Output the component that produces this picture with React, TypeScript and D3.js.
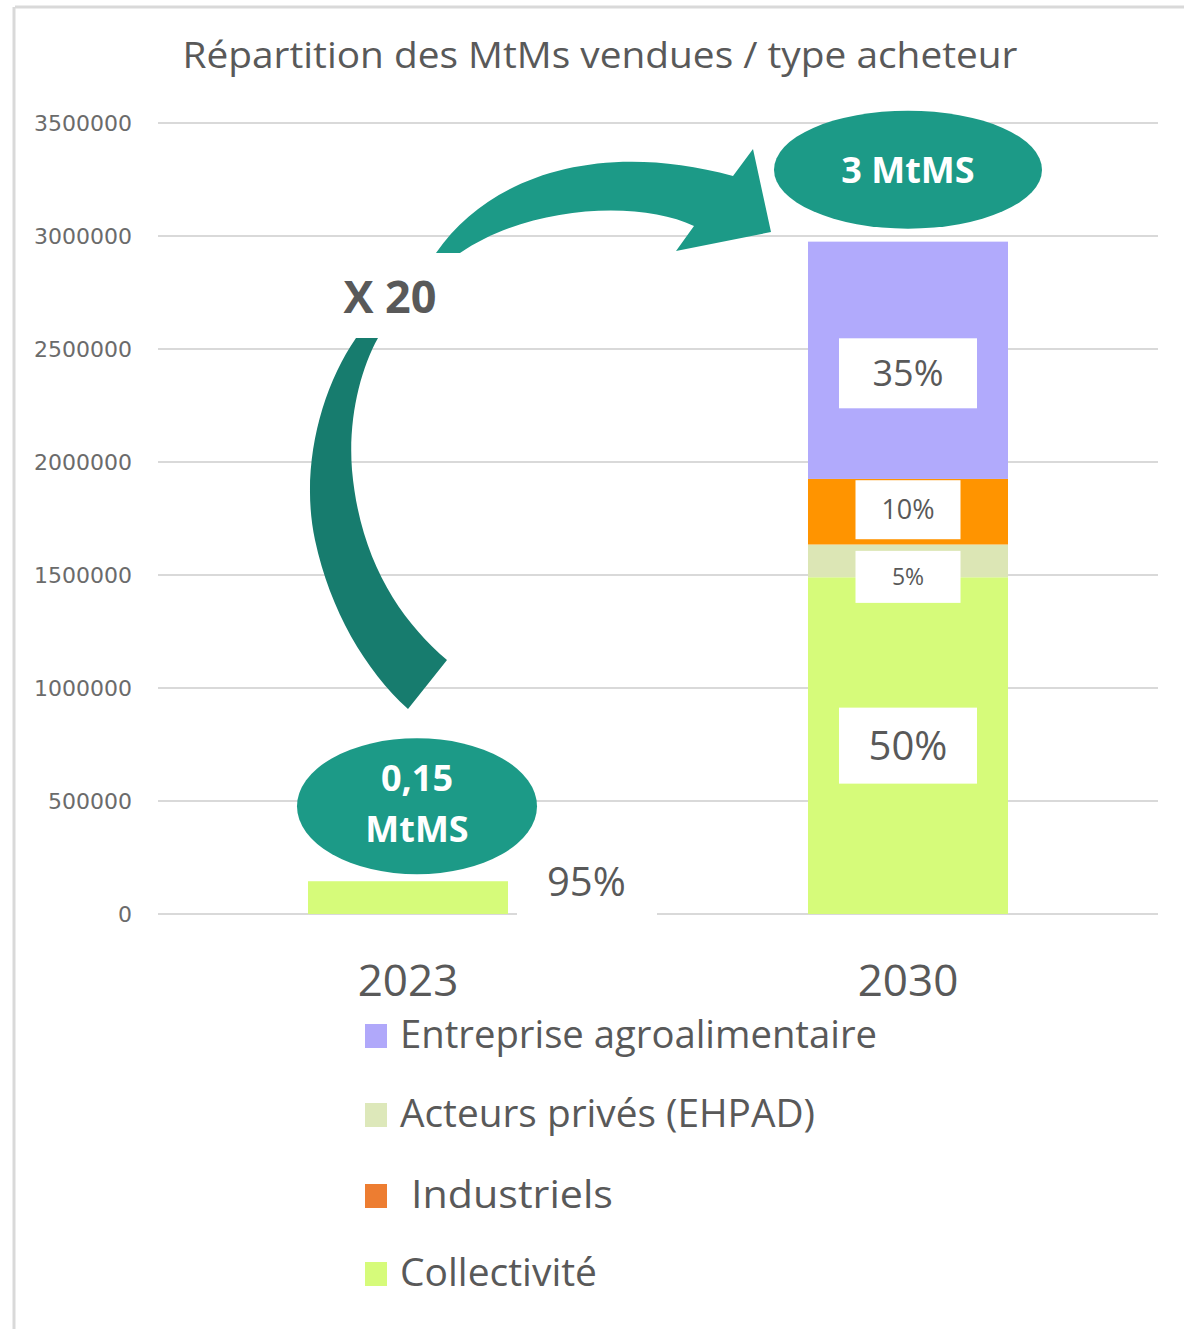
import React from "react";
import * as d3 from "d3";

// ---------- DATA ----------
const categories = ["2023", "2030"];
const seriesKeys = ["collectivite", "acteurs", "industriels", "entreprise"];
const collectivite = [145000, 1490000];
const acteursPrives = [0, 145000];
const industriels = [0, 290000];
const entreprise = [0, 1050000];
const barColors = ["#D6FB7A", "#DCE6B5", "#FF9400", "#B1AAFC"];

const legendNames = ["Entreprise agroalimentaire", "Acteurs privés (EHPAD)", " Industriels", "Collectivité"];
const legendColors = ["#B0A8FA", "#DDE8BA", "#ED7D31", "#D6FB7A"];

const yTicks = [0, 500000, 1000000, 1500000, 2000000, 2500000, 3000000, 3500000];

const pctLabels2030 = ["50%", "5%", "10%", "35%"];
const pctLabel2023 = "95%";
const totalLabels = [["0,15", "MtMS"], ["3 MtMS"]];
const growthLabel = "X 20";
const title = "Répartition des MtMs vendues / type acheteur";

// ---------- STYLE / LAYOUT ----------
const W = 1184;
const H = 1329;
const textColor = "#595959";
const teal = "#1C9A87";
const tealDark = "#177C6E";
const pctStyle = [
  { w: 138, h: 76, fs: 40, dy: 0 },
  { w: 105, h: 52, fs: 23, dy: 16 },
  { w: 105, h: 59, fs: 27, dy: -2 },
  { w: 138, h: 70, fs: 36, dy: 13 },
];

export default function App() {
  const y = d3.scaleLinear().domain([0, 3500000]).range([914, 123]);
  const x = d3
    .scaleBand<string>()
    .domain(categories)
    .range([158, 1158])
    .paddingInner(0.6)
    .paddingOuter(0.3);

  const table = categories.map((c, i) => ({
    cat: c,
    collectivite: collectivite[i],
    acteurs: acteursPrives[i],
    industriels: industriels[i],
    entreprise: entreprise[i],
  }));
  const stacked = d3.stack<any>().keys(seriesKeys)(table);

  const bw = x.bandwidth();
  const c2023 = (x("2023") as number) + bw / 2;
  const c2030 = (x("2030") as number) + bw / 2;
  const total2030 = stacked[stacked.length - 1][1][1];
  const total2023 = stacked[stacked.length - 1][0][1];

  const font = "'Open Sans', sans-serif";

  // annotation arrows
  const topArrow =
    "M436,253 C490,175 600,140 733,176 L753,149 L771,232 L676,251 L694,226 C640,200 530,205 460,253 Z";
  const lowArrow =
    "M356,338 C320,390 300,470 315,540 C330,610 365,670 408,709 L447,660 C400,620 360,560 352,470 C348,420 360,370 378,338 Z";

  return (
    <svg
      width={W}
      height={H}
      style={{ position: "absolute", left: 0, top: 0, background: "#fff" }}
      fontFamily={font}
    >
      <rect x={0} y={0} width={W} height={H} fill="#fff" />
      {/* frame */}
      <line x1={15} x2={W} y1={7} y2={7} stroke="#D9D9D9" strokeWidth={3} />
      <line x1={14} x2={14} y1={7} y2={H} stroke="#D9D9D9" strokeWidth={3} />

      {/* title */}
      <text
        x={600}
        y={68}
        textAnchor="middle"
        fontSize={36}
        fill={textColor}
        textLength={835}
        lengthAdjust="spacingAndGlyphs"
      >
        {title}
      </text>

      {/* grid + y ticks */}
      {yTicks.map((t) => (
        <g key={t}>
          <line x1={158} x2={1158} y1={y(t)} y2={y(t)} stroke="#D9D9D9" strokeWidth={2} />
          <text
            x={132}
            y={y(t) + 8}
            textAnchor="end"
            fontSize={22}
            fontFamily="'DejaVu Sans', sans-serif"
            fill="#6b6b6b"
          >
            {t}
          </text>
        </g>
      ))}

      {/* bars */}
      {stacked.map((s, si) => (
        <g key={s.key}>
          {s.map((d, ci) =>
            d[1] - d[0] > 0 ? (
              <rect
                key={ci}
                x={x(categories[ci])}
                y={y(d[1])}
                width={bw}
                height={y(d[0]) - y(d[1])}
                fill={barColors[si]}
              />
            ) : null
          )}
        </g>
      ))}

      {/* 2030 percentage labels */}
      {stacked.map((s, si) => {
        const d = s[1];
        const st = pctStyle[si];
        const cy = (y(d[0]) + y(d[1])) / 2 + st.dy;
        return (
          <g key={"p" + si}>
            <rect x={c2030 - st.w / 2} y={cy - st.h / 2} width={st.w} height={st.h} fill="#fff" />
            <text
              x={c2030}
              y={cy + st.fs * 0.36}
              textAnchor="middle"
              fontSize={st.fs}
              fill={textColor}
            >
              {pctLabels2030[si]}
            </text>
          </g>
        );
      })}

      {/* 2023 label */}
      <rect x={c2023 + 109} y={y(total2023) - 31} width={140} height={70} fill="#fff" />
      <text x={c2023 + 139} y={y(total2023) + 15} fontSize={40} fill={textColor}>
        {pctLabel2023}
      </text>

      {/* arrows */}
      <path d={topArrow} fill={teal} />
      <path d={lowArrow} fill={tealDark} />
      <text x={390} y={313} textAnchor="middle" fontSize={45} fontWeight="bold" fill={textColor}>
        {growthLabel}
      </text>

      {/* totals ellipses */}
      <ellipse cx={c2030} cy={y(total2030) - 72} rx={134} ry={59} fill={teal} />
      <text
        x={c2030}
        y={y(total2030) - 59}
        textAnchor="middle"
        fontSize={36}
        fontWeight="bold"
        fill="#fff"
      >
        {totalLabels[1][0]}
      </text>
      <ellipse cx={c2023 + 9} cy={y(total2023) - 75} rx={120} ry={68} fill={teal} />
      {totalLabels[0].map((t, i) => (
        <text
          key={t}
          x={c2023 + 9}
          y={y(total2023) - 90 + i * 51}
          textAnchor="middle"
          fontSize={36}
          fontWeight="bold"
          fill="#fff"
        >
          {t}
        </text>
      ))}

      {/* x labels */}
      {categories.map((c) => (
        <text
          key={c}
          x={(x(c) as number) + bw / 2}
          y={996}
          textAnchor="middle"
          fontSize={44}
          fill={textColor}
        >
          {c}
        </text>
      ))}

      {/* legend */}
      {legendNames.map((n, i) => {
        const by = [1048, 1127, 1208, 1286][i];
        const widths = [477, 415, 202, 197];
        const tx = i === 2 ? 411 : 400;
        return (
          <g key={n}>
            <rect x={365} y={by - 24} width={22} height={24} fill={legendColors[i]} />
            <text
              x={tx}
              y={by}
              fontSize={38}
              fill={textColor}
              textLength={widths[i]}
              lengthAdjust="spacingAndGlyphs"
            >
              {n.trim()}
            </text>
          </g>
        );
      })}
    </svg>
  );
}
